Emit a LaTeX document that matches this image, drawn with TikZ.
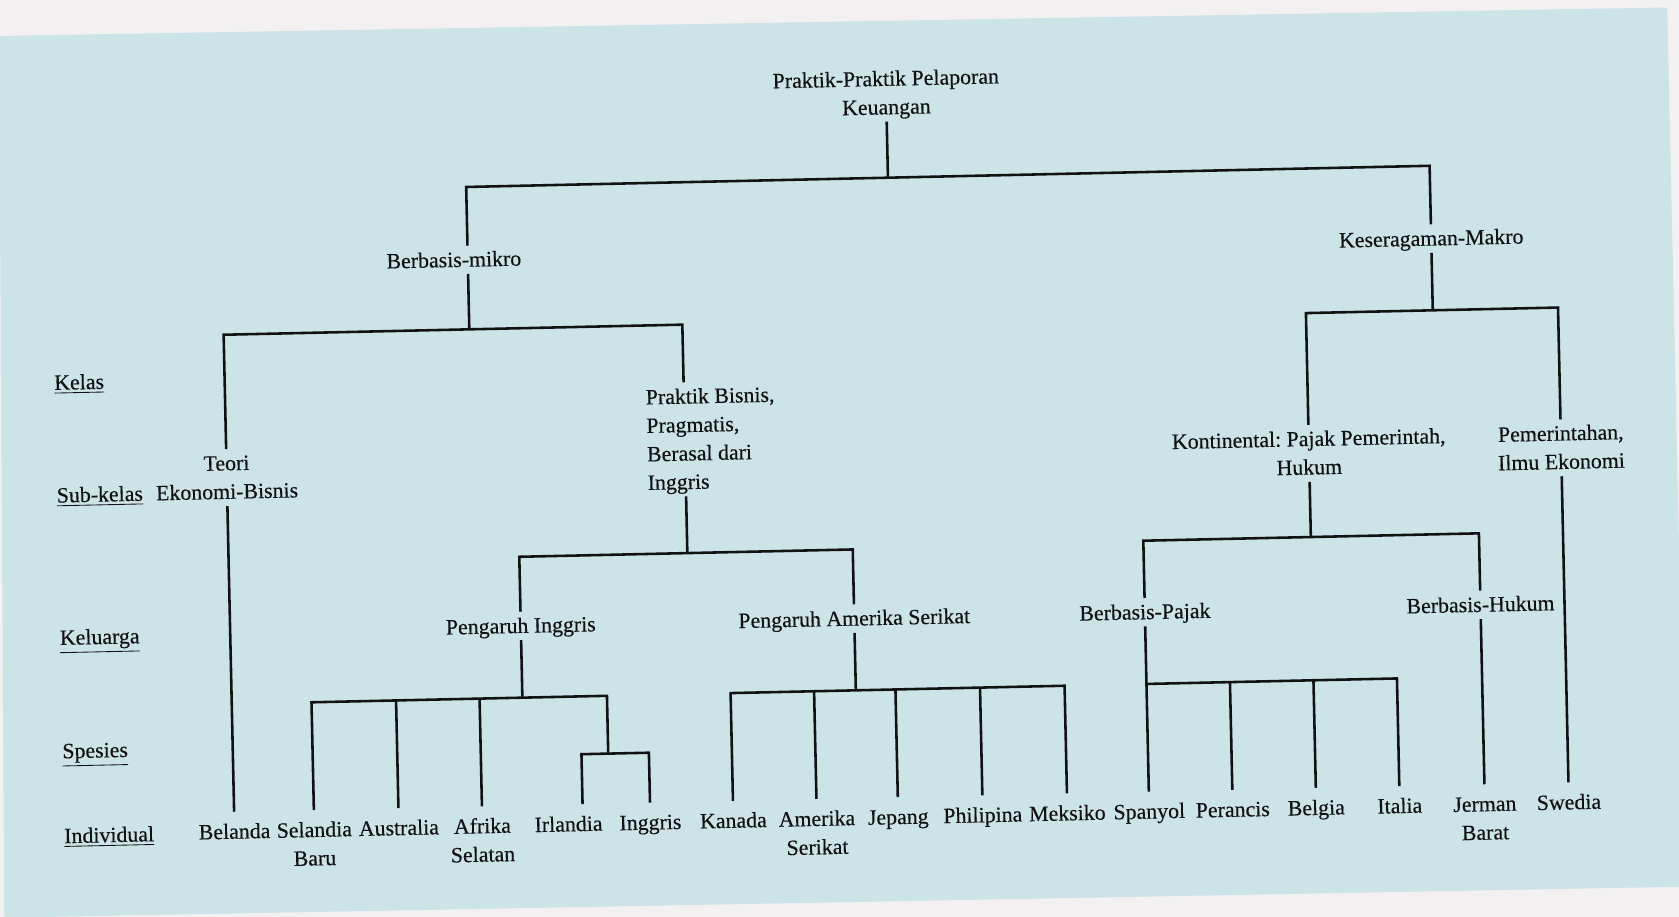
\documentclass[tikz,border=0pt]{standalone}
\usepackage{fontspec}
\setmainfont{Liberation Serif}
\newfontfamily\lblfont{Liberation Serif}[FakeBold=0.35]
\frenchspacing
\newcommand\up[1]{\rule{0pt}{#1}}
\newcommand\dn{\rule[-2.2pt]{0pt}{2.2pt}}
\newcommand\shiftx[2]{\makebox[0pt]{\kern#1\kern#1\relax #2}}
\definecolor{bgpaper}{RGB}{242,240,241}
\definecolor{bgblue}{RGB}{204,227,232}
\definecolor{ink}{RGB}{18,18,18}
\begin{document}
\begin{tikzpicture}[x=0.5pt,y=-0.5pt,
  lbl/.style={font=\lblfont\fontsize{10.2}{13.3}\selectfont, text=ink, inner sep=1pt, transform shape},
  mbox/.style={lbl, align=center},
  lab/.style={lbl, inner sep=0pt, anchor=base west},
  conn/.style={draw=ink, line width=1.2pt}]
\useasboundingbox (0,0) rectangle (1568,856);
\fill[bgpaper] (0,0) rectangle (1568,856);
\fill[bgblue] (-1,33.6) -- (1557,7) -- (1575,828) -- (4,857) -- cycle;
\begin{scope}[rotate around={1.26:(784,428)}]
% level labels
\node[lab] (kelas) at (52,348) {\underline{Kelas}};
\node[lab] (subkelas) at (52,453.3) {\underline{Sub-kelas}};
\node[lab] (keluarga) at (52,586.3) {\underline{Keluarga}};
\node[lab] (spesies) at (52,692.2) {\underline{Spesies}};
\node[lab] (individual) at (52,771.5) {\underline{Individual}};
% internal nodes
\node[mbox] (root) at (835,88) {\up{8.7pt}Praktik-Praktik Pelaporan\\\dn Keuangan};
\node[lbl] (mikro) at (441,235) {\shiftx{-6.5pt}{\up{8.7pt}\dn Berbasis-mikro}};
\node[lbl] (makro) at (1341,235) {\up{8.7pt}\dn Keseragaman-Makro};
\node[mbox] (teori) at (211.5,433.5) {\up{8.7pt}Teori\\\dn Ekonomi-Bisnis};
\node[lbl] (pb) at (640,407.2) {\makebox[0pt][l]{\kern-17.8pt\vbox{\hbox{\up{8.7pt}Praktik Bisnis,}\hbox{Pragmatis,}\hbox{Berasal dari}\hbox{\dn Inggris}}}};
\node[lbl] (pi) at (483,578) {\up{8.7pt}\dn Pengaruh Inggris};
\node[lbl] (pa) at (794.5,578) {\up{8.7pt}\dn Pengaruh Amerika Serikat};
\node[mbox] (kont) at (1222.5,433) {\up{8.7pt}Kontinental: Pajak Pemerintah,\\\dn Hukum};
\node[mbox] (pem) at (1458,433) {\up{8.7pt}Pemerintahan,\\\dn Ilmu Ekonomi};
\node[lbl] (pajak) at (1066,578) {\up{8.7pt}\dn Berbasis-Pajak};
\node[lbl] (hukum) at (1379.5,578) {\up{8.7pt}\dn Berbasis-Hukum};
% leaves
\node[lbl] (belanda) at (211.5,761.6) {\up{11.4pt}\dn Belanda};
\node[mbox] (selandia) at (286,774.9) {\up{11.4pt}Selandia\\\dn Baru};
\node[lbl] (australia) at (365,761.6) {\up{11.4pt}\dn Australia};
\node[mbox] (afrika) at (443,774.9) {\up{11.4pt}Afrika\\\dn Selatan};
\node[lbl] (irlandia) at (537,761.6) {\shiftx{-6.75pt}{\up{11.4pt}\dn Irlandia}};
\node[lbl] (inggris) at (600,761.6) {\up{11.4pt}\dn Inggris};
\node[lbl] (kanada) at (677.5,761.6) {\up{11.4pt}\dn Kanada};
\node[mbox] (amerika) at (755.5,774.9) {\up{11.4pt}Amerika\\\dn Serikat};
\node[lbl] (jepang) at (831.5,761.6) {\up{11.4pt}\dn Jepang};
\node[lbl] (philipina) at (910.5,761.6) {\up{11.4pt}\dn Philipina};
\node[lbl] (meksiko) at (989.5,761.6) {\up{11.4pt}\dn Meksiko};
\node[lbl] (spanyol) at (1066,761.6) {\up{11.4pt}\dn Spanyol};
\node[lbl] (perancis) at (1144,761.6) {\up{11.4pt}\dn Perancis};
\node[lbl] (belgia) at (1222,761.6) {\up{11.4pt}\dn Belgia};
\node[lbl] (italia) at (1300,761.6) {\up{11.4pt}\dn Italia};
\node[mbox] (jerman) at (1379.5,774.9) {\up{11.4pt}Jerman\\\dn Barat};
\node[lbl] (swedia) at (1458,761.6) {\up{11.4pt}\dn Swedia};
% junction coordinates
\coordinate (rb) at (835,167);
\coordinate (rbL) at (441,167);
\coordinate (rbR) at (1341,167);
\coordinate (mb) at (441,300);
\coordinate (mbL) at (211.5,300);
\coordinate (mbR) at (640,300);
\coordinate (ib) at (640,513.4);
\coordinate (ibL) at (483,513.4);
\coordinate (ibR) at (794.5,513.4);
\coordinate (bb) at (483,645);
\coordinate (bb1) at (286,645);
\coordinate (bb2) at (365,645);
\coordinate (bb3) at (443,645);
\coordinate (bb4) at (562,645);
\coordinate (sbt) at (562,699);
\coordinate (sb1) at (537,699);
\coordinate (sb2) at (600,699);
\coordinate (ub) at (794.5,645);
\coordinate (ub1) at (677.5,645);
\coordinate (ub2) at (755.5,645);
\coordinate (ub3) at (831.5,645);
\coordinate (ub4) at (910.5,645);
\coordinate (ub5) at (989.5,645);
\coordinate (kb) at (1341,302);
\coordinate (kbL) at (1222.5,302);
\coordinate (kbR) at (1458,302);
\coordinate (cb) at (1222.5,511.2);
\coordinate (cbL) at (1066,511.2);
\coordinate (cbR) at (1379.5,511.2);
\coordinate (pj1) at (1066,645);
\coordinate (pj2) at (1144,645);
\coordinate (pj3) at (1222,645);
\coordinate (pj4) at (1300,645);
% connectors
\draw[conn] (root.south) -- (rb);
\draw[conn] (mikro.north) -- (rbL) -- (rbR) -- (makro.north);
\draw[conn] (mikro.south) -- (mb);
\draw[conn] (teori.north) -- (mbL) -- (mbR) -- (pb.north);
\draw[conn] (teori.south) -- (belanda.north);
\draw[conn] (pb.south) -- (ib);
\draw[conn] (pi.north) -- (ibL) -- (ibR) -- (pa.north);
\draw[conn] (pi.south) -- (bb);
\draw[conn] (selandia.north) -- (bb1) -- (bb4) -- (sbt);
\draw[conn] (bb2) -- (australia.north);
\draw[conn] (bb3) -- (afrika.north);
\draw[conn] (irlandia.north) -- (sb1) -- (sb2) -- (inggris.north);
\draw[conn] (pa.south) -- (ub);
\draw[conn] (kanada.north) -- (ub1) -- (ub5) -- (meksiko.north);
\draw[conn] (ub2) -- (amerika.north);
\draw[conn] (ub3) -- (jepang.north);
\draw[conn] (ub4) -- (philipina.north);
\draw[conn] (makro.south) -- (kb);
\draw[conn] (kont.north) -- (kbL) -- (kbR) -- (pem.north);
\draw[conn] (kont.south) -- (cb);
\draw[conn] (pajak.north) -- (cbL) -- (cbR) -- (hukum.north);
\draw[conn] (pajak.south) -- (pj1);
\draw[conn] (spanyol.north) -- (pj1) -- (pj4) -- (italia.north);
\draw[conn] (pj2) -- (perancis.north);
\draw[conn] (pj3) -- (belgia.north);
\draw[conn] (hukum.south) -- (jerman.north);
\draw[conn] (pem.south) -- (swedia.north);
\end{scope}
\end{tikzpicture}
\end{document}
